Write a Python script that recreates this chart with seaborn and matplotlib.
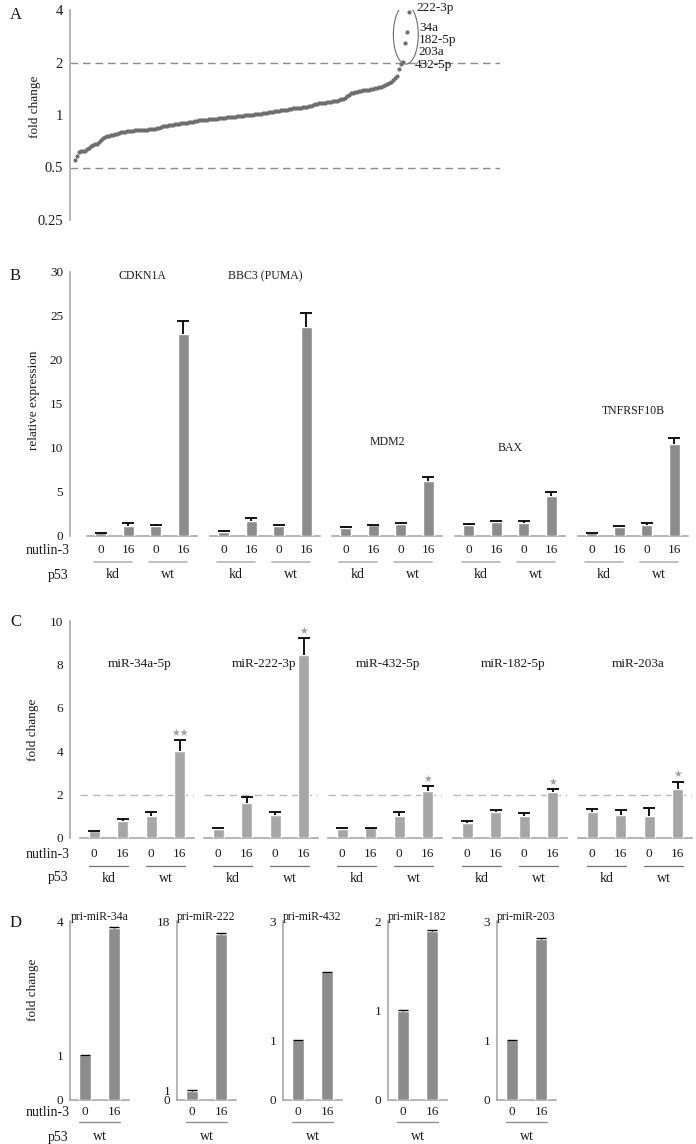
import numpy as np
import matplotlib
matplotlib.use("Agg")
import matplotlib.pyplot as plt
from matplotlib.patches import Ellipse
import seaborn as sns

# ---------------- data ----------------
# A: fold change of every miRNA after nutlin-3, sorted low -> high
fold_change = [
    0.55, 0.58, 0.61, 0.62, 0.62, 0.62, 0.64, 0.65, 0.66, 0.67, 0.68, 0.68,
    0.70, 0.72, 0.74, 0.75, 0.755, 0.76, 0.765, 0.77, 0.775, 0.78, 0.79, 0.795,
    0.80, 0.80, 0.805, 0.805, 0.81, 0.81, 0.815, 0.815, 0.82, 0.82, 0.82, 0.825,
    0.825, 0.83, 0.83, 0.835, 0.835, 0.84, 0.845, 0.85, 0.86, 0.865, 0.87, 0.875,
    0.875, 0.88, 0.885, 0.89, 0.89, 0.895, 0.90, 0.90, 0.905, 0.91, 0.91, 0.915,
    0.92, 0.925, 0.93, 0.935, 0.94, 0.94, 0.94, 0.945, 0.945, 0.945, 0.95, 0.95,
    0.955, 0.96, 0.96, 0.965, 0.97, 0.97, 0.975, 0.98, 0.98, 0.985, 0.99, 0.99,
    0.99, 0.995, 1.0, 1.0, 1.0, 1.005, 1.01, 1.01, 1.015, 1.02, 1.025, 1.03,
    1.03, 1.035, 1.04, 1.045, 1.05, 1.055, 1.06, 1.065, 1.07, 1.07, 1.075, 1.08,
    1.085, 1.09, 1.09, 1.095, 1.10, 1.10, 1.105, 1.11, 1.115, 1.12, 1.13, 1.145,
    1.155, 1.16, 1.165, 1.17, 1.17, 1.175, 1.18, 1.185, 1.19, 1.20, 1.205, 1.21,
    1.22, 1.23, 1.24, 1.25, 1.29, 1.31, 1.33, 1.34, 1.35, 1.36, 1.37, 1.38,
    1.385, 1.39, 1.395, 1.40, 1.41, 1.415, 1.42, 1.43, 1.44, 1.45, 1.46, 1.48,
    1.50, 1.52, 1.55, 1.59, 1.63, 1.67,
    1.83, 1.97, 2.02, 2.58, 2.99, 3.90,
]
# labelled top hits (last five points)
top_names = ["432-5p", "203a", "182-5p", "34a", "222-3p"]

# conditions shared by B and C
conditions = ["kd 0", "kd 16", "wt 0", "wt 16"]
nutlin = ["0", "16", "0", "16"]
p53 = ["kd", "wt"]

# B: mRNA relative expression
b_genes = ["CDKN1A", "BBC3 (PUMA)", "MDM2", "BAX", "TNFRSF10B"]
b_means = [
    [0.3, 1.1, 1.1, 23.0],
    [0.45, 1.7, 1.1, 23.8],
    [0.95, 1.2, 1.35, 6.3],
    [1.25, 1.55, 1.45, 4.5],
    [0.3, 1.0, 1.2, 10.4],
]
b_errs = [
    [0.08, 0.35, 0.2, 1.4],
    [0.15, 0.3, 0.2, 1.5],
    [0.1, 0.1, 0.15, 0.35],
    [0.15, 0.2, 0.2, 0.45],
    [0.05, 0.1, 0.25, 0.7],
]
b_title_y = [29.5, 29.5, 10.7, 10.0, 14.2]

# C: mature miRNA fold change
c_mirs = ["miR-34a-5p", "miR-222-3p", "miR-432-5p", "miR-182-5p", "miR-203a"]
c_means = [
    [0.3, 0.8, 1.02, 4.02],
    [0.4, 1.63, 1.05, 8.45],
    [0.42, 0.46, 1.02, 2.18],
    [0.7, 1.2, 1.02, 2.1],
    [1.2, 1.06, 1.02, 2.28],
]
c_errs = [
    [0.03, 0.07, 0.17, 0.5],
    [0.08, 0.25, 0.15, 0.78],
    [0.03, 0.02, 0.17, 0.2],
    [0.1, 0.1, 0.12, 0.15],
    [0.13, 0.24, 0.38, 0.32],
]
c_stars = ["\u2605\u2605", "\u2605", "\u2605", "\u2605", "\u2605"]

# D: primary transcripts, p53 wt only
d_pri = ["pri-miR-34a", "pri-miR-222", "pri-miR-432", "pri-miR-182", "pri-miR-203"]
d_conditions = ["0", "16"]
d_means = [[1.0, 3.84], [0.95, 16.7], [1.0, 2.14], [1.0, 1.89], [1.0, 2.70]]
d_errs = [[0.01, 0.03], [0.05, 0.1], [0.01, 0.01], [0.01, 0.01], [0.01, 0.01]]
d_top = [4, 18, 3, 2, 3]

# ---------------- style ----------------
sns.set_style("white")
plt.rcParams["font.family"] = ["Liberation Serif", "DejaVu Serif"]
plt.rcParams["axes.linewidth"] = 1.0

SPINE = "#a8a8a8"
DARK_BAR = "#8c8c8c"
LIGHT_BAR = "#a6a6a6"
TXT = "#1a1a1a"

W, H = 696, 1144
fig = plt.figure(figsize=(W / 100, H / 100), dpi=100)


def box(x0, y0, x1, y1):
    # pixel box -> figure fraction rect
    return [x0 / W, 1 - y1 / H, (x1 - x0) / W, (y1 - y0) / H]


def ftext(x, y, s, **kw):
    fig.text(x / W, 1 - y / H, s, **kw)


def style_axes(ax, first, ymax, yticks, tick_size, outward):
    sns.despine(ax=ax)
    for sp in ("left", "bottom"):
        ax.spines[sp].set_color(SPINE)
        ax.spines[sp].set_linewidth(1.2)
    ax.set_ylim(0, ymax)
    ax.set_xlabel("")
    ax.set_ylabel("")
    if first:
        ax.spines["left"].set_position(("outward", outward))
        ax.set_yticks(yticks)
        ax.tick_params(axis="y", direction="out", length=3, color=SPINE,
                       labelsize=tick_size, pad=2, labelcolor=TXT)
    else:
        ax.spines["left"].set_visible(False)
        ax.tick_params(axis="y", left=False, labelleft=False)


def segment(ax, means, errs, color, cats, labels, pad, cap_ms=8, cap_w=1.3):
    sns.barplot(x=cats, y=means, order=cats, color=color, width=0.4,
                saturation=1, errorbar=None, ax=ax, zorder=3)
    xs = np.arange(len(cats))
    tops = np.array(means) + np.array(errs)
    # upward-only error bar: stem + a single cap on top
    ax.errorbar(x=xs, y=means, yerr=[np.zeros(len(cats)), errs], fmt="none",
                ecolor="black", elinewidth=cap_w, capsize=0, zorder=4)
    ax.plot(xs, tops, ls="none", marker="_", ms=cap_ms, mew=cap_w,
            color="black", zorder=4)
    n = len(cats)
    ax.set_xlim(-0.5, n - 0.5)
    ax.set_xticks(np.arange(n + 1) - 0.5)
    ax.set_xticklabels([])
    ax.set_xticks(xs, minor=True)
    ax.set_xticklabels(labels, minor=True)
    ax.tick_params(axis="x", which="major", direction="in", length=3, color=SPINE)
    ax.tick_params(axis="x", which="minor", length=0, pad=pad, labelsize=9.5,
                   labelcolor=TXT)


# ---------------- panel A ----------------
axA = fig.add_axes(box(70, 10, 500, 220))
idx = np.arange(len(fold_change))
for y in (0.5, 2):
    axA.axhline(y, color="#8c8c8c", lw=1.0, ls=(0, (5.5, 3.5)), zorder=1)
sns.scatterplot(x=idx, y=fold_change, ax=axA, s=9, color="#6e6e6e",
                linewidth=0, zorder=3)
axA.set_yscale("log", base=2)
axA.set_ylim(0.25, 4)
axA.set_xlim(-2.5, 212.5)
axA.set_yticks([0.25, 0.5, 1, 2, 4])
axA.set_yticklabels(["0.25", "0.5", "1", "2", "4"])
axA.minorticks_off()
axA.set_xticks([])
for sp in ("top", "right", "bottom"):
    axA.spines[sp].set_visible(False)
axA.spines["left"].set_color(SPINE)
axA.spines["left"].set_linewidth(1.2)
axA.tick_params(axis="y", direction="out", length=3, color=SPINE, labelsize=10.5,
                pad=2, labelcolor=TXT)
axA.add_patch(Ellipse((0.781, 0.883), 0.058, 0.281, transform=axA.transAxes,
                      fill=False, ec="#6e6e6e", lw=0.8, zorder=2))
offsets = [(14, -1), (15, 10), (14, 3), (12, 4), (7, 4)]
for k, name in enumerate(top_names):
    i = len(fold_change) - len(top_names) + k
    axA.annotate(name, (idx[i], fold_change[i]), xytext=offsets[k],
                 textcoords="offset pixels", ha="left", va="center",
                 fontsize=9.5, color=TXT, annotation_clip=False)
ftext(35, 107, "fold change", rotation=90, ha="center", va="center",
      fontsize=9.5, color=TXT)
ftext(10, 15, "A", fontsize=12, ha="left", va="center", color=TXT)

# ---------------- panel B ----------------
b_top, b_bot = 272, 536
b_h = b_bot - b_top
for i, x0 in enumerate([87, 210, 332, 455, 578]):
    ax = fig.add_axes(box(x0, b_top, x0 + 110, b_bot))
    segment(ax, b_means[i], b_errs[i], DARK_BAR, conditions, nutlin, 6)
    style_axes(ax, i == 0, 30, [0, 5, 10, 15, 20, 25, 30], 9.5, 12.2)
    ax.text(1.5, b_title_y[i], b_genes[i], ha="center", va="center",
            fontsize=8.5, color=TXT)
    tr = ax.get_xaxis_transform()
    for lo, hi, g in [(-0.25, 1.15, p53[0]), (1.75, 3.15, p53[1])]:
        ax.plot([lo, hi], [-26 / b_h] * 2, color="#b5b5b5", lw=1.2,
                transform=tr, clip_on=False)
        ax.text((lo + hi) / 2, -39 / b_h, g, transform=tr, ha="center",
                va="center", fontsize=10, color=TXT)
ftext(70, 551, "nutlin-3", ha="right", va="center", fontsize=10, color=TXT)
ftext(68, 575, "p53", ha="right", va="center", fontsize=10, color=TXT)
ftext(34, 400, "relative expression", rotation=90, ha="center", va="center",
      fontsize=9.5, color=TXT)
ftext(10, 276, "B", fontsize=12, ha="left", va="center", color=TXT)

# ---------------- panel C ----------------
c_top, c_bot = 621, 838
c_h = c_bot - c_top
for i, x0 in enumerate([80, 204, 328, 453, 578]):
    ax = fig.add_axes(box(x0, c_top, x0 + 114, c_bot))
    ax.axhline(2, color="#b8b8b8", lw=1.0, ls=(0, (5.5, 3.5)), zorder=1)
    segment(ax, c_means[i], c_errs[i], LIGHT_BAR, conditions, nutlin, 7)
    style_axes(ax, i == 0, 10, [0, 2, 4, 6, 8, 10], 9.5, 7.2)
    ax.text(1.6, 8, c_mirs[i], ha="center", va="center", fontsize=9.5,
            color=TXT)
    ax.text(3, c_means[i][3] + c_errs[i][3] + 0.1, c_stars[i], ha="center",
            va="bottom", fontsize=7, color="#a0a0a0", family="DejaVu Sans")
    tr = ax.get_xaxis_transform()
    for lo, hi, g in [(-0.2, 1.2, p53[0]), (1.8, 3.2, p53[1])]:
        ax.plot([lo, hi], [-28 / c_h] * 2, color="#707070", lw=0.9,
                transform=tr, clip_on=False)
        ax.text((lo + hi) / 2, -40 / c_h, g, transform=tr, ha="center",
                va="center", fontsize=10, color=TXT)
ftext(70, 854, "nutlin-3", ha="right", va="center", fontsize=10, color=TXT)
ftext(68, 877, "p53", ha="right", va="center", fontsize=10, color=TXT)
ftext(33, 730, "fold change", rotation=90, ha="center", va="center",
      fontsize=9.5, color=TXT)
ftext(10, 622, "C", fontsize=12, ha="left", va="center", color=TXT)

# ---------------- panel D ----------------
d_top_px, d_bot_px = 921, 1100
d_h = d_bot_px - d_top_px
for i, x0 in enumerate([70, 177, 283, 388, 497]):
    ax = fig.add_axes(box(x0, d_top_px, x0 + 59, d_bot_px))
    segment(ax, d_means[i], d_errs[i], DARK_BAR, d_conditions, d_conditions, 4,
            cap_ms=7, cap_w=1.0)
    style_axes(ax, True, d_top[i], [0, 1, d_top[i]], 9.5, 0)
    ax.tick_params(axis="x", which="major", direction="out", length=3)
    ax.set_title(d_pri[i], fontsize=8.5, pad=1, color=TXT)
    tr = ax.get_xaxis_transform()
    ax.plot([-0.2, 1.2], [-22 / d_h] * 2, color="#8a8a8a", lw=0.9,
            transform=tr, clip_on=False)
    ax.text(0.5, -37 / d_h, "wt", transform=tr, ha="center", va="center",
            fontsize=10, color=TXT)
ftext(70, 1113, "nutlin-3", ha="right", va="center", fontsize=10, color=TXT)
ftext(68, 1137, "p53", ha="right", va="center", fontsize=10, color=TXT)
ftext(33, 990, "fold change", rotation=90, ha="center", va="center",
      fontsize=9.5, color=TXT)
ftext(10, 923, "D", fontsize=12, ha="left", va="center", color=TXT)

fig.savefig("out.png", dpi=100)
